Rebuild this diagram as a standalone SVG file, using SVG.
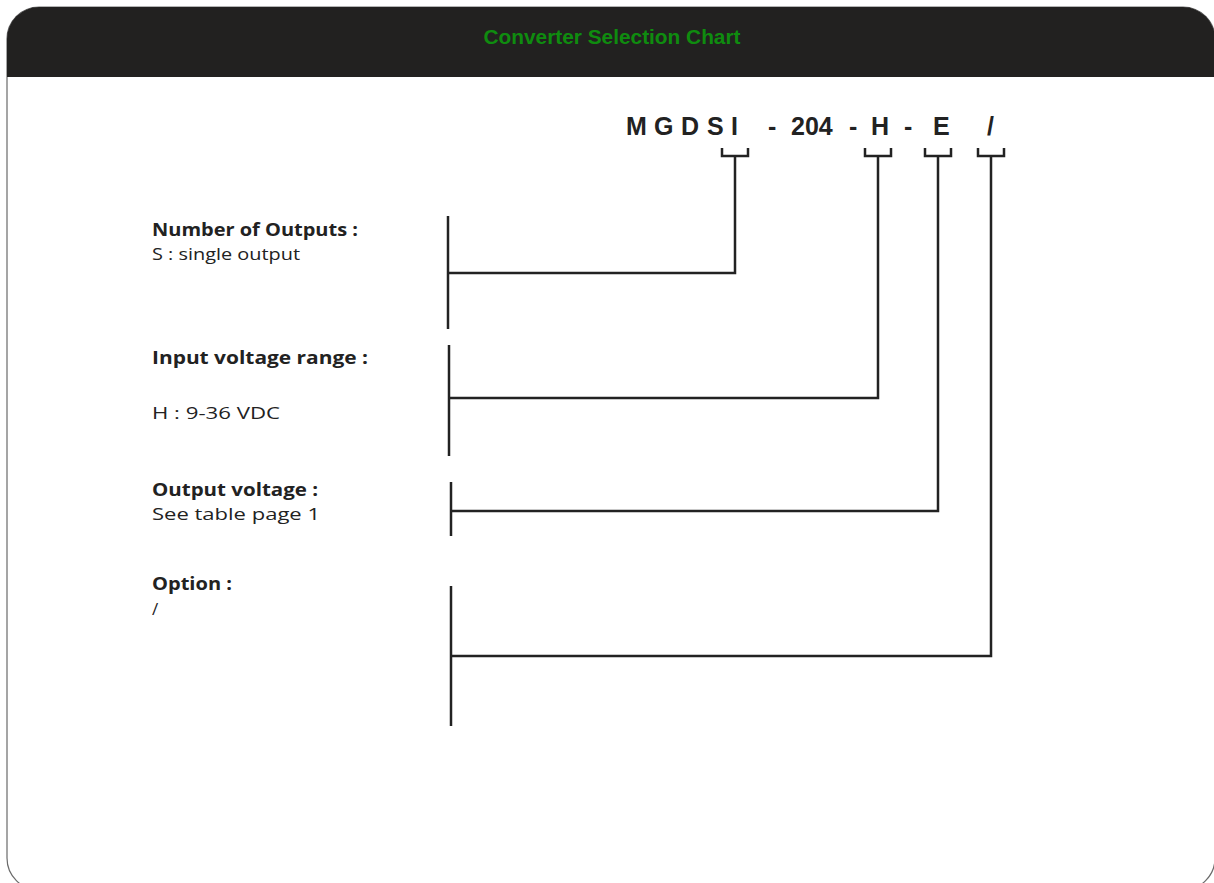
<svg xmlns="http://www.w3.org/2000/svg" width="1214" height="883" viewBox="0 0 1214 883">
  <defs>
    <style>
      .frame { fill: #ffffff; stroke: #6a6a6a; stroke-width: 1.2; }
      .header { fill: #222120; }
      .title { font-family: "Liberation Sans", Arial, sans-serif; font-weight: bold; font-size: 20px; fill: #0f8c0f; }
      .code { font-family: "Liberation Sans", Arial, sans-serif; font-weight: bold; font-size: 25px; fill: #222222; }
      .lbl { font-family: "Open Sans", "Noto Sans", sans-serif; font-size: 17px; fill: #222222; }
      .lbl-b { font-family: "Open Sans", "Noto Sans", sans-serif; font-size: 17px; font-weight: bold; fill: #222222; }
      .ln { fill: none; stroke: #222222; stroke-width: 2.5; stroke-linecap: butt; stroke-linejoin: miter; }
    </style>
  </defs>

  <rect class="frame" x="7" y="7" width="1208" height="883" rx="32" ry="32"/>
  <path class="header" d="M7,77 L7,39 A32,32 0 0 1 39,7 L1183,7 A32,32 0 0 1 1215,39 L1215,77 Z"/>
  <text class="title" x="612" y="44" text-anchor="middle" textLength="257" lengthAdjust="spacingAndGlyphs">Converter Selection Chart</text>

  <g id="code">
    <text class="code" y="135">
      <tspan x="626">M</tspan><tspan x="654">G</tspan><tspan x="681">D</tspan><tspan x="707">S</tspan><tspan x="731">I</tspan>
      <tspan x="768">-</tspan><tspan x="791">204</tspan><tspan x="849">-</tspan><tspan x="871">H</tspan><tspan x="904">-</tspan><tspan x="933">E</tspan><tspan x="987">/</tspan>
    </text>
  </g>

  <g id="node-outputs">
    <text class="lbl-b" x="152" y="236" textLength="206" lengthAdjust="spacingAndGlyphs">Number of Outputs :</text>
    <text class="lbl" x="152" y="260" textLength="148" lengthAdjust="spacingAndGlyphs">S : single output</text>
    <line class="ln" x1="448" y1="216" x2="448" y2="329"/>
  </g>
  <g id="node-input">
    <text class="lbl-b" x="152" y="364" textLength="216" lengthAdjust="spacingAndGlyphs">Input voltage range :</text>
    <text class="lbl" x="152" y="419" textLength="128" lengthAdjust="spacingAndGlyphs">H : 9-36 VDC</text>
    <line class="ln" x1="449" y1="345" x2="449" y2="456"/>
  </g>
  <g id="node-output-voltage">
    <text class="lbl-b" x="152" y="496" textLength="166" lengthAdjust="spacingAndGlyphs">Output voltage :</text>
    <text class="lbl" x="152" y="520" textLength="168" lengthAdjust="spacingAndGlyphs">See table page 1</text>
    <line class="ln" x1="451" y1="482" x2="451" y2="536"/>
  </g>
  <g id="node-option">
    <text class="lbl-b" x="152" y="590" textLength="80" lengthAdjust="spacingAndGlyphs">Option :</text>
    <text class="lbl" x="152" y="615" font-size="19">/</text>
    <line class="ln" x1="451" y1="586" x2="451" y2="726"/>
  </g>

  <g id="connectors">
    <path class="ln" d="M722,148 L722,156 L748,156 L748,148 M735,156 L735,273 L448,273"/>
    <path class="ln" d="M865,148 L865,156 L891,156 L891,148 M878,156 L878,398 L449,398"/>
    <path class="ln" d="M925,148 L925,156 L951,156 L951,148 M938,156 L938,511 L451,511"/>
    <path class="ln" d="M978,148 L978,156 L1004,156 L1004,148 M991,156 L991,656 L451,656"/>
  </g>
</svg>
